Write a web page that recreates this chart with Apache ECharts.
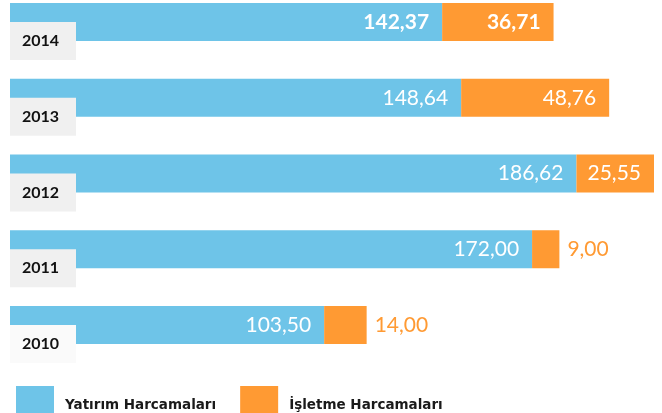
<!DOCTYPE html>
<html>
<head>
<meta charset="utf-8">
<script src="https://cdn.jsdelivr.net/npm/echarts@6/dist/echarts.min.js"></script>
<style>
  html, body { margin: 0; padding: 0; background: #fff; }
  #chart { width: 662px; height: 413px; }
</style>
</head>
<body>
<div id="chart"></div>
<script>
// yıllar (üstten alta)
const years = ['2014', '2013', '2012', '2011', '2010'];
const yatirim = [142.37, 148.64, 186.62, 172.00, 103.50];
const isletme = [36.71, 48.76, 25.55, 9.00, 14.00];
const seriesNames = ['Yatırım Harcamaları', 'İşletme Harcamaları'];

const totals = yatirim.map((v, i) => v + isletme[i]);
const maxTotal = Math.max(...totals);
const plotWidth = 644;
const fmt = p => p.value.toFixed(2).replace('.', ',');

// 2014 kalın; dar dilimlerde etiket barın dışına (sağa) taşınır
const toData = (arr, outsideColor) => arr.map((v, i) => {
    const label = {};
    if (i === 0) label.fontWeight = 'bold';
    if (outsideColor && v / maxTotal * plotWidth < 66) {
        label.position = 'right';
        label.distance = 8;
        label.color = outsideColor;
    }
    return { value: v, label: label };
});

const chart = echarts.init(document.getElementById('chart'));
const option = {
    animation: false,
    color: ['#6ec4e8', '#ff9a33'],
    grid: { left: 10, right: 8, top: 22, bottom: 413 - 325 },
    xAxis: {
        type: 'value',
        min: 0,
        max: maxTotal,
        show: false
    },
    yAxis: {
        type: 'category',
        data: years,
        inverse: true,
        boundaryGap: false,
        z: 10,
        axisLine: { show: false },
        axisTick: { show: false },
        splitLine: { show: false },
        axisLabel: {
            inside: true,
            margin: 0,
            verticalAlign: 'top',
            align: 'left',
            formatter: v => (v === '2010' ? '{b|' : '{a|') + v + '}',
            rich: {
                a: {
                    width: 54, height: 38, lineHeight: 38,
                    padding: [0, 0, 0, 12],
                    backgroundColor: '#f0f0f0',
                    color: '#111', fontFamily: 'Lato', fontWeight: 'bold', fontSize: 16
                },
                b: {
                    width: 54, height: 38, lineHeight: 38,
                    padding: [0, 0, 0, 12],
                    backgroundColor: '#fafafa',
                    color: '#111', fontFamily: 'Lato', fontWeight: 'bold', fontSize: 16
                }
            }
        }
    },
    legend: {
        left: 11,
        top: 381,
        icon: 'rect',
        itemWidth: 38,
        itemHeight: 38,
        itemGap: 24,
        data: seriesNames,
        textStyle: {
            color: '#1a1a1a', fontFamily: 'DejaVu Sans', fontWeight: 'bold', fontSize: 13.5,
            padding: [0, 0, 0, 6]
        }
    },
    series: [
        {
            name: seriesNames[0],
            type: 'bar',
            stack: 'toplam',
            barWidth: 38,
            data: toData(yatirim),
            label: {
                show: true, position: 'insideRight', distance: 13,
                color: '#fff', fontFamily: 'Lato', fontSize: 21, formatter: fmt
            }
        },
        {
            name: seriesNames[1],
            type: 'bar',
            stack: 'toplam',
            barWidth: 38,
            data: toData(isletme, '#ff9a33'),
            label: {
                show: true, position: 'insideRight', distance: 13,
                color: '#fff', fontFamily: 'Lato', fontSize: 21, formatter: fmt
            }
        }
    ]
};
chart.setOption(option);
</script>
</body>
</html>
